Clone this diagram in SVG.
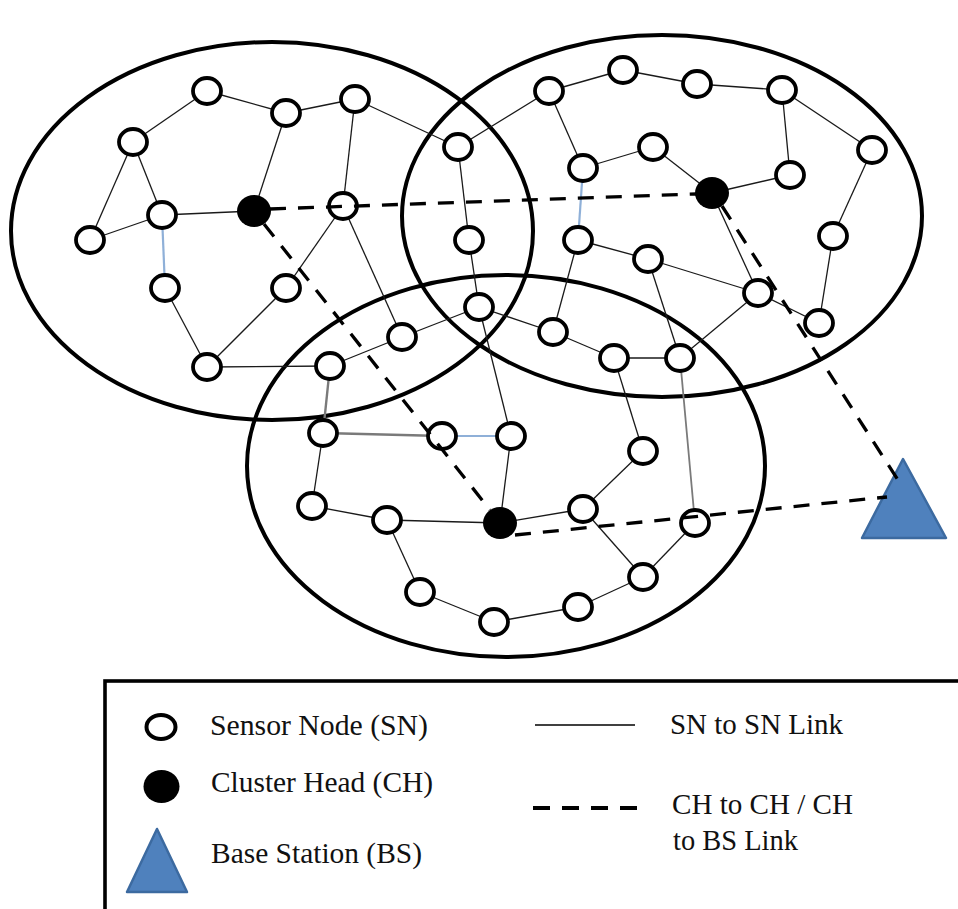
<svg xmlns="http://www.w3.org/2000/svg" width="958" height="909" viewBox="0 0 958 909">
<style>
.cl{fill:none;stroke:#000;stroke-width:4}
.e{stroke:#1a1a1a;stroke-width:1.3;fill:none}
.g{stroke:#7a7a7a;stroke-width:2.4;fill:none}
.b{stroke:#8fb0d8;stroke-width:2.2;fill:none}
.d{stroke:#000;stroke-width:3.3;stroke-dasharray:16 12;fill:none}
.sn{fill:#fff;stroke:#000;stroke-width:3.8}
.ch{fill:#000}
.bs{fill:#4f81bd;stroke:#3c6aa0;stroke-width:2.5;stroke-linejoin:round}
.t{font-family:"Liberation Serif","Times New Roman",serif;font-size:29px;fill:#111}
</style>
<rect width="958" height="909" fill="#fff"/>
<g id="clusters">
<ellipse class="cl" cx="272" cy="231" rx="261" ry="189"/>
<ellipse class="cl" cx="662" cy="216" rx="260" ry="181"/>
<ellipse class="cl" cx="506" cy="466" rx="259" ry="191"/>
</g>
<g id="connectors">
<line class="e" x1="90" y1="240" x2="133" y2="142"/>
<line class="e" x1="133" y1="142" x2="207" y2="91"/>
<line class="e" x1="207" y1="91" x2="286" y2="113"/>
<line class="e" x1="286" y1="113" x2="355" y2="99"/>
<line class="e" x1="133" y1="142" x2="162" y2="215"/>
<line class="e" x1="90" y1="240" x2="162" y2="215"/>
<line class="e" x1="162" y1="215" x2="254" y2="211"/>
<line class="e" x1="286" y1="113" x2="254" y2="211"/>
<line class="e" x1="355" y1="99" x2="343" y2="206"/>
<line class="e" x1="355" y1="99" x2="458" y2="147"/>
<line class="e" x1="343" y1="206" x2="286" y2="288"/>
<line class="e" x1="286" y1="288" x2="207" y2="367"/>
<line class="e" x1="165" y1="288" x2="207" y2="367"/>
<line class="e" x1="207" y1="367" x2="330" y2="366"/>
<line class="e" x1="343" y1="206" x2="402" y2="337"/>
<line class="e" x1="458" y1="147" x2="469" y2="240"/>
<line class="e" x1="469" y1="240" x2="479" y2="307"/>
<line class="e" x1="458" y1="147" x2="549" y2="91"/>
<line class="e" x1="549" y1="91" x2="623" y2="70"/>
<line class="e" x1="623" y1="70" x2="697" y2="84"/>
<line class="e" x1="697" y1="84" x2="782" y2="90"/>
<line class="e" x1="549" y1="91" x2="583" y2="168"/>
<line class="e" x1="583" y1="168" x2="653" y2="147"/>
<line class="e" x1="653" y1="147" x2="712" y2="193"/>
<line class="e" x1="712" y1="193" x2="790" y2="175"/>
<line class="e" x1="790" y1="175" x2="782" y2="90"/>
<line class="e" x1="782" y1="90" x2="872" y2="150"/>
<line class="e" x1="872" y1="150" x2="833" y2="236"/>
<line class="e" x1="833" y1="236" x2="819" y2="323"/>
<line class="e" x1="819" y1="323" x2="758" y2="293"/>
<line class="e" x1="712" y1="193" x2="758" y2="293"/>
<line class="e" x1="758" y1="293" x2="648" y2="259"/>
<line class="e" x1="648" y1="259" x2="578" y2="240"/>
<line class="e" x1="648" y1="259" x2="680" y2="358"/>
<line class="e" x1="758" y1="293" x2="680" y2="358"/>
<line class="e" x1="680" y1="358" x2="614" y2="358"/>
<line class="e" x1="614" y1="358" x2="553" y2="332"/>
<line class="e" x1="553" y1="332" x2="578" y2="240"/>
<line class="e" x1="553" y1="332" x2="479" y2="307"/>
<line class="e" x1="479" y1="307" x2="402" y2="337"/>
<line class="e" x1="402" y1="337" x2="330" y2="366"/>
<line class="e" x1="479" y1="307" x2="511" y2="436"/>
<line class="e" x1="511" y1="436" x2="500" y2="523"/>
<line class="e" x1="323" y1="433" x2="312" y2="506"/>
<line class="e" x1="312" y1="506" x2="387" y2="520"/>
<line class="e" x1="387" y1="520" x2="500" y2="523"/>
<line class="e" x1="387" y1="520" x2="420" y2="592"/>
<line class="e" x1="420" y1="592" x2="494" y2="622"/>
<line class="e" x1="494" y1="622" x2="578" y2="607"/>
<line class="e" x1="578" y1="607" x2="643" y2="577"/>
<line class="e" x1="643" y1="577" x2="583" y2="509"/>
<line class="e" x1="643" y1="577" x2="695" y2="523"/>
<line class="e" x1="583" y1="509" x2="643" y2="451"/>
<line class="e" x1="643" y1="451" x2="614" y2="358"/>
<line class="e" x1="500" y1="523" x2="583" y2="509"/>
<line class="g" x1="330" y1="366" x2="323" y2="433"/>
<line class="g" x1="323" y1="433" x2="442" y2="436"/>
<line class="g" x1="680" y1="358" x2="695" y2="523" style="stroke-width:1.8"/>
<line class="b" x1="162" y1="215" x2="165" y2="288"/>
<line class="b" x1="583" y1="168" x2="578" y2="240"/>
<line class="b" x1="442" y1="436" x2="511" y2="436"/>
</g>
<g id="sensor-nodes">
<ellipse id="sn-a1" class="sn" cx="207" cy="91" rx="14" ry="13"/>
<ellipse id="sn-a2" class="sn" cx="133" cy="142" rx="14" ry="13"/>
<ellipse id="sn-a3" class="sn" cx="286" cy="113" rx="14" ry="13"/>
<ellipse id="sn-a4" class="sn" cx="355" cy="99" rx="14" ry="13"/>
<ellipse id="sn-a5" class="sn" cx="162" cy="215" rx="14" ry="13"/>
<ellipse id="sn-a6" class="sn" cx="90" cy="240" rx="14" ry="13"/>
<ellipse id="sn-a7" class="sn" cx="165" cy="288" rx="14" ry="13"/>
<ellipse id="sn-a8" class="sn" cx="286" cy="288" rx="14" ry="13"/>
<ellipse id="sn-a9" class="sn" cx="207" cy="367" rx="14" ry="13"/>
<ellipse id="sn-a10" class="sn" cx="343" cy="206" rx="14" ry="13"/>
<ellipse id="sn-a11" class="sn" cx="458" cy="147" rx="14" ry="13"/>
<ellipse id="sn-a12" class="sn" cx="469" cy="240" rx="14" ry="13"/>
<ellipse id="sn-a13" class="sn" cx="479" cy="307" rx="14" ry="13"/>
<ellipse id="sn-a14" class="sn" cx="402" cy="337" rx="14" ry="13"/>
<ellipse id="sn-a15" class="sn" cx="330" cy="366" rx="14" ry="13"/>
<ellipse id="sn-b1" class="sn" cx="549" cy="91" rx="14" ry="13"/>
<ellipse id="sn-b2" class="sn" cx="623" cy="70" rx="14" ry="13"/>
<ellipse id="sn-b3" class="sn" cx="583" cy="168" rx="14" ry="13"/>
<ellipse id="sn-b4" class="sn" cx="578" cy="240" rx="14" ry="13"/>
<ellipse id="sn-b5" class="sn" cx="553" cy="332" rx="14" ry="13"/>
<ellipse id="sn-b6" class="sn" cx="614" cy="358" rx="14" ry="13"/>
<ellipse id="sn-b7" class="sn" cx="697" cy="84" rx="14" ry="13"/>
<ellipse id="sn-b8" class="sn" cx="782" cy="90" rx="14" ry="13"/>
<ellipse id="sn-b9" class="sn" cx="653" cy="147" rx="14" ry="13"/>
<ellipse id="sn-b10" class="sn" cx="790" cy="175" rx="14" ry="13"/>
<ellipse id="sn-b11" class="sn" cx="872" cy="150" rx="14" ry="13"/>
<ellipse id="sn-b12" class="sn" cx="833" cy="236" rx="14" ry="13"/>
<ellipse id="sn-b13" class="sn" cx="648" cy="259" rx="14" ry="13"/>
<ellipse id="sn-b14" class="sn" cx="758" cy="293" rx="14" ry="13"/>
<ellipse id="sn-b15" class="sn" cx="819" cy="323" rx="14" ry="13"/>
<ellipse id="sn-b16" class="sn" cx="680" cy="358" rx="14" ry="13"/>
<ellipse id="sn-c1" class="sn" cx="323" cy="433" rx="14" ry="13"/>
<ellipse id="sn-c2" class="sn" cx="442" cy="436" rx="14" ry="13"/>
<ellipse id="sn-c3" class="sn" cx="511" cy="436" rx="14" ry="13"/>
<ellipse id="sn-c4" class="sn" cx="312" cy="506" rx="14" ry="13"/>
<ellipse id="sn-c5" class="sn" cx="387" cy="520" rx="14" ry="13"/>
<ellipse id="sn-c6" class="sn" cx="420" cy="592" rx="14" ry="13"/>
<ellipse id="sn-c7" class="sn" cx="494" cy="622" rx="14" ry="13"/>
<ellipse id="sn-c8" class="sn" cx="578" cy="607" rx="14" ry="13"/>
<ellipse id="sn-c9" class="sn" cx="643" cy="451" rx="14" ry="13"/>
<ellipse id="sn-c10" class="sn" cx="583" cy="509" rx="14" ry="13"/>
<ellipse id="sn-c11" class="sn" cx="695" cy="523" rx="14" ry="13"/>
<ellipse id="sn-c12" class="sn" cx="643" cy="577" rx="14" ry="13"/>
</g>
<g id="ch1"><ellipse class="ch" cx="254" cy="211" rx="17" ry="16"/></g>
<g id="ch2"><ellipse class="ch" cx="712" cy="193" rx="17" ry="16"/></g>
<g id="ch3"><ellipse class="ch" cx="500" cy="523" rx="17" ry="16"/></g>
<g id="base-station"><polygon class="bs" points="903,459 946,538 862,538"/></g>
<g id="ch-links">
<line class="d" x1="270" y1="209" x2="696" y2="194"/>
<line class="d" x1="264" y1="224" x2="490" y2="510"/>
<line class="d" x1="722" y1="206" x2="898" y2="480"/>
<line class="d" x1="515" y1="535" x2="887" y2="497"/>
</g>
<g id="legend">
<rect x="105" y="681" width="900" height="300" fill="none" stroke="#000" stroke-width="3.6"/>
<ellipse class="sn" cx="161" cy="727" rx="14.5" ry="12" style="stroke-width:4"/>
<ellipse class="ch" cx="161.5" cy="786.5" rx="18" ry="16.5"/>
<polygon class="bs" points="157,829 187,892 127,892"/>
<text class="t" x="210" y="735" textLength="218" lengthAdjust="spacingAndGlyphs">Sensor Node (SN)</text>
<text class="t" x="211" y="792" textLength="222" lengthAdjust="spacingAndGlyphs">Cluster Head (CH)</text>
<text class="t" x="211" y="863" textLength="211" lengthAdjust="spacingAndGlyphs">Base Station (BS)</text>
<line x1="535" y1="725" x2="635" y2="725" stroke="#000" stroke-width="1.6"/>
<line x1="533" y1="808" x2="637" y2="808" stroke="#000" stroke-width="4" stroke-dasharray="17 12"/>
<text class="t" x="670" y="734" textLength="173" lengthAdjust="spacingAndGlyphs">SN to SN Link</text>
<text class="t" x="672" y="814" textLength="181" lengthAdjust="spacingAndGlyphs">CH to CH / CH</text>
<text class="t" x="673" y="850" textLength="125" lengthAdjust="spacingAndGlyphs">to BS Link</text>
</g>
</svg>
